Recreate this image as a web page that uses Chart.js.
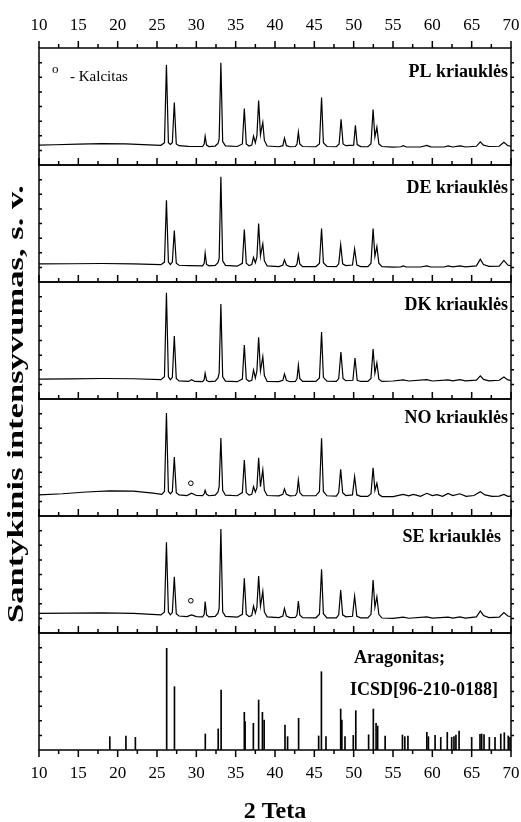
<!DOCTYPE html>
<html>
<head>
<meta charset="utf-8">
<script src="https://cdn.jsdelivr.net/npm/chart.js@4.4.1/dist/chart.umd.min.js"></script>
<style>
  body { margin: 0; background: #fff; }
</style>
</head>
<body>
<canvas id="myChart" width="521" height="822"></canvas>
<script>
// x range and ticks (2 Teta, degrees)
const xMin = 10;
const xMax = 70;
const xMajorStep = 5;
const xMinorStep = 2.5;

// panel names, top to bottom
const panelNames = ['PL kriauklės', 'DE kriauklės', 'DK kriauklės', 'NO kriauklės', 'SE kriauklės'];
const refNames = ['Aragonitas;', 'ICSD[96-210-0188]'];
const yTitleText = 'Santykinis intensyvumas, s. v.';

const plCurve = [
  [10,17],[12,17.3],[15,17.8],[18,18.2],[21,18],[24,17.2],[25.5,16.8],
  [25.95,19],[26.2,85.6],[26.45,19],[26.7,17.5],[26.95,19],[27.2,53.4],[27.45,18],[27.8,16.5],
  [29,16],[30.8,15.8],[31.0,18],[31.12,24.6],[31.3,17],[31.6,15.8],
  [32.4,16.2],[32.75,18.5],[32.9,22],[33.12,87.3],[33.35,20],[33.7,16.3],
  [35.2,15.8],[35.85,18],[36.1,48.3],[36.35,18],[36.7,16.2],
  [37.05,17],[37.27,24.6],[37.5,19],[37.7,25],[37.92,55.1],[38.15,26],[38.25,30],[38.45,36.4],[38.65,21],[39,16.2],
  [40.5,15.6],[41.0,16.5],[41.2,22.9],[41.45,16.5],[41.9,15.6],
  [42.6,15.8],[42.8,18],[42.97,28],[43.15,18],[43.5,15.8],
  [45.2,15.6],[45.65,18],[45.92,57.6],[46.15,19],[46.6,15.8],
  [47.8,15.6],[48.15,18],[48.4,39],[48.65,18],[49.0,16.5],
  [50.0,17],[50.22,33.9],[50.45,17.5],[50.9,15.7],
  [51.8,15.6],[52.2,18],[52.47,47.5],[52.7,24],[52.95,32.2],[53.2,18],[53.6,15.8],
  [55,15.3],[56,15.6],[56.3,16.5],[56.7,15.4],[58.5,15.4],[59.3,16.8],[59.8,15.5],[61.5,15.4],[62.0,16.3],[62.6,15.4],
  [63.3,16.2],[63.6,16.4],[64.2,15.4],[65.6,16],[66.1,19.7],[66.5,17],[67.2,15.8],[68.5,16],[69.1,19.5],[69.6,16.5],[70,16]
];
const deCurve = [
  [10,15.5],[14,15.6],[18,15.8],[22,15.5],[25.5,14.8],
  [25.95,17],[26.2,69.8],[26.45,17],[26.7,15],[26.95,17],[27.2,44],[27.45,16],[27.8,14.3],
  [29,14],[30.8,13.8],[31.0,16],[31.12,24.7],[31.3,15],[31.6,13.8],
  [32.4,14.2],[32.75,16.5],[32.9,20],[33.12,89.9],[33.35,18],[33.7,14.2],
  [35.2,13.5],[35.85,16],[36.1,44.8],[36.35,16],[36.7,14],
  [37.05,15],[37.27,21],[37.5,16.5],[37.7,21],[37.92,50],[38.15,22],[38.25,26],[38.45,32.5],[38.65,18],[39,13.8],
  [40.5,13.2],[41.0,14.5],[41.2,19],[41.45,14.5],[41.9,13.2],
  [42.6,13.3],[42.8,15.5],[42.97,23.3],[43.15,15.5],[43.5,13.2],
  [45.2,13.2],[45.65,16],[45.92,45.7],[46.15,16.5],[46.6,13.3],
  [47.8,13.2],[48.1,15.5],[48.35,31.9],[48.6,15.5],[49.0,14],
  [49.85,14.5],[50.12,28.2],[50.4,14.5],[50.9,13.2],
  [51.8,13.2],[52.2,16],[52.47,45.7],[52.7,22],[52.95,30.5],[53.2,16],[53.6,13.2],
  [55,12.7],[56,13],[56.3,13.8],[56.7,12.8],[58.5,12.8],[59.3,13.8],[59.8,12.8],[61.5,12.8],[62.0,13.8],[62.6,12.9],
  [63.5,13.8],[64.2,12.9],[65.6,13.8],[66.1,19.5],[66.5,15],[67.2,13.3],[68.5,13.5],[69.1,18.4],[69.6,14.5],[70,13.8]
];
const dkCurve = [
  [10,17],[14,17.2],[18,17.5],[22,17.3],[25.5,16.5],
  [25.95,19],[26.2,90.9],[26.45,19],[26.7,16.5],[26.95,18.5],[27.2,53.8],[27.45,17.5],[27.8,15.5],
  [29,15],[29.4,16.5],[29.8,15],[30.8,14.8],[31.0,16.5],[31.12,22],[31.3,16],[31.6,14.8],
  [32.4,15.2],[32.75,18],[32.9,22],[33.12,81.2],[33.35,19],[33.7,15.3],
  [35.2,14.8],[35.85,17],[36.1,46.2],[36.35,17],[36.7,15.2],
  [37.05,16],[37.27,24.8],[37.5,18],[37.7,24],[37.92,52.7],[38.15,24],[38.25,28],[38.45,36.2],[38.65,20],[39,15],
  [40.5,14.8],[41.0,16],[41.2,21.4],[41.45,16],[41.9,14.8],
  [42.6,15],[42.8,17.5],[42.97,29],[43.15,17.5],[43.5,15],
  [45.2,15],[45.65,18],[45.92,57.3],[46.15,18.5],[46.6,15.2],
  [47.8,15],[48.1,17.5],[48.38,40.2],[48.65,17.5],[49.0,15.6],
  [49.9,16],[50.17,35],[50.45,16],[50.9,15],
  [51.8,15],[52.2,17.5],[52.47,42.7],[52.7,22],[52.95,30.8],[53.2,17],[53.6,15],
  [55,15.4],[56.3,16.3],[57,15.4],[59.3,16.5],[60,15.4],[62,16.3],[62.6,15.5],[63.5,16.5],[64.2,15.5],
  [65.6,16.2],[66.1,19.7],[66.5,16.8],[67.2,15.5],[68.5,16],[69.1,18.8],[69.6,16.3],[70,16]
];
const noCurve = [
  [10,18],[13,19],[16,20.5],[19,21.4],[22,21.2],[24.5,19.5],[25.6,18.5],
  [25.95,21],[26.2,88],[26.45,21],[26.7,19],[26.95,21],[27.2,50.4],[27.45,20],[27.8,18],
  [28.8,17.5],[29.4,19.5],[30,17.5],[30.8,17.4],[31.0,19],[31.12,22],[31.3,18.5],[31.6,17.3],
  [32.4,17.8],[32.75,20.5],[32.9,25],[33.12,66.7],[33.35,22],[33.7,17.8],
  [35.2,17.3],[35.85,20],[36.1,47.9],[36.35,20],[36.7,17.8],
  [37.05,18.5],[37.27,25],[37.5,20.5],[37.7,24],[37.92,49.8],[38.15,25],[38.25,30],[38.45,39.3],[38.65,22],[39,17.5],
  [40.5,17.2],[41.0,18.5],[41.2,23.1],[41.45,18.5],[41.9,17.2],
  [42.6,17.5],[42.8,20],[42.97,30.8],[43.15,20],[43.5,17.3],
  [45.2,17.3],[45.65,21],[45.92,66.4],[46.15,21],[46.6,17.3],
  [47.8,17],[48.1,20],[48.35,39.9],[48.6,20],[49.0,17.5],
  [49.85,18],[50.12,33.6],[50.4,18],[50.9,16.8],
  [51.8,16.8],[52.2,19],[52.47,41.3],[52.7,22],[52.95,28],[53.2,18.5],[53.6,16.6],
  [55,16.5],[56.3,18.5],[57,17.2],[57.6,18.5],[58.5,16.8],[59.3,19.4],[60,17.5],[60.6,18.2],[61.3,16.8],[62,19.3],
  [62.6,17.5],[63.5,19],[64.3,16.8],[65.3,17.5],[66.1,20.8],[66.7,18],[67.6,16.8],[68.5,17],[69.1,18.5],[69.6,16.8],[70,17]
];
const seCurve = [
  [10,16.8],[14,17],[18,17.2],[22,16.8],[25.5,15.5],
  [25.95,18],[26.2,77.5],[26.45,18],[26.7,15.5],[26.95,17.5],[27.2,48.1],[27.45,16.5],[27.8,14.5],
  [28.8,14],[29.4,15.5],[30,14],[30.8,13.8],[31.0,16],[31.12,26.8],[31.3,15.5],[31.6,13.8],
  [32.4,14.2],[32.75,17],[32.9,21],[33.12,88.9],[33.35,18],[33.7,14.2],
  [35.2,13.5],[35.85,16],[36.1,46.7],[36.35,16],[36.7,14],
  [37.05,15],[37.27,23],[37.5,17],[37.7,22],[37.92,48.7],[38.15,23],[38.25,27],[38.45,35.5],[38.65,18],[39,13.8],
  [40.5,13.2],[41.0,14.5],[41.2,21.1],[41.45,14.5],[41.9,13.2],
  [42.6,13.3],[42.8,15.5],[42.97,27.4],[43.15,15.5],[43.5,13.2],
  [45.2,13],[45.65,16],[45.92,54.4],[46.15,16.5],[46.6,13],
  [47.8,13],[48.1,15.5],[48.35,36.8],[48.6,15.5],[49.0,13.8],
  [49.85,14.3],[50.12,31.6],[50.4,14.3],[50.9,13],
  [51.8,13],[52.2,16],[52.47,45.3],[52.7,22],[52.95,31],[53.2,16],[53.6,12.8],
  [55,12.5],[56.3,13.5],[57,12.6],[59.3,13.8],[60,12.7],[62,13.6],[62.6,12.8],[63.5,13.8],[64.2,12.8],
  [65.6,13.8],[66.1,18.8],[66.5,15],[67.2,13.2],[68.5,13.5],[69.1,17.4],[69.6,14.5],[70,14]
];

// aragonite reference lines (ICSD 96-210-0188)
const aragPos = [19.0, 21.05, 22.25, 26.23, 27.22, 31.14, 32.78, 33.15, 36.1, 36.2, 37.25, 37.92, 38.4, 38.62,
  41.27, 41.6, 43.0, 45.55, 45.9, 46.48, 48.35, 48.5, 48.9, 49.95, 50.27, 51.9, 52.5, 52.85, 53.05, 54.0,
  56.2, 56.5, 56.9, 59.3, 59.5, 60.35, 61.07, 61.9, 62.46, 62.75, 63.0, 63.4, 65.0, 66.06, 66.27, 66.57,
  67.25, 67.97, 68.7, 69.15, 69.65, 69.87];
const aragInt = [11.4, 12, 10.8, 86.9, 54.1, 13.7, 18, 51.3, 32.2, 24.2, 22.8, 42.7, 32.2, 25.6,
  21.4, 11.4, 27.1, 12, 66.9, 11.4, 35, 25.6, 11.4, 12.5, 33.6, 13, 35, 22.8, 20.5, 12,
  12.8, 11.4, 12, 15.1, 11.4, 12.5, 10.8, 15.1, 10.8, 11.4, 12.8, 16.2, 10.8, 13.4, 13.7, 13.1,
  10.8, 10.8, 13.7, 14.8, 12, 10.8];

// calcite markers ("o") in NO and SE
const calcitePos = 29.3;
const calciteNO = 28;
const calciteSE = 27.6;

const yTickVals = [12.5, 25, 37.5, 50, 62.5, 75, 87.5];

const panelIds = ['yPL', 'yDE', 'yDK', 'yNO', 'ySE', 'yAR'];
const curves = [plCurve, deCurve, dkCurve, noCurve, seCurve];
const serif = '"Liberation Serif", "DejaVu Serif", serif';

const datasets = curves.map((c, i) => ({
  type: 'line',
  data: c,
  yAxisID: panelIds[i],
  borderColor: '#000',
  borderWidth: 1.2,
  pointRadius: 0,
  tension: 0,
  fill: false
}));
datasets.push({
  type: 'bar',
  data: aragPos.map((x, i) => ({ x: x, y: aragInt[i] })),
  yAxisID: 'yAR',
  backgroundColor: '#000',
  barThickness: 1
});
datasets.push({
  type: 'scatter',
  data: [{ x: calcitePos, y: calciteNO }],
  yAxisID: 'yNO',
  pointRadius: 2.3,
  borderWidth: 1,
  borderColor: '#000',
  backgroundColor: '#fff'
});
datasets.push({
  type: 'scatter',
  data: [{ x: calcitePos, y: calciteSE }],
  yAxisID: 'ySE',
  pointRadius: 2.3,
  borderWidth: 1,
  borderColor: '#000',
  backgroundColor: '#fff'
});

const hidden = {
  ticks: { display: false },
  grid: { display: false, drawTicks: false },
  border: { display: false }
};

const noSidePadding = s => { s.paddingLeft = 0; s.paddingRight = 0; };

const scales = {
  x: {
    type: 'linear', position: 'bottom', min: xMin, max: xMax, offset: false,
    ticks: { stepSize: xMajorStep, color: '#000', padding: 13, maxRotation: 0, autoSkip: false,
      font: { family: serif, size: 17 } },
    grid: { display: false, drawTicks: false },
    border: { display: false },
    title: { display: true, text: '2 Teta', color: '#000', padding: { top: 0, bottom: 0 },
      font: { family: serif, size: 24, weight: 'bold', lineHeight: 0.85 } },
    afterFit: s => { s.height = 72; noSidePadding(s); }
  },
  x2: {
    type: 'linear', position: 'top', min: xMin, max: xMax, offset: false,
    ticks: { stepSize: xMajorStep, color: '#000', padding: 12, maxRotation: 0, autoSkip: false,
      font: { family: serif, size: 17 } },
    grid: { display: false, drawTicks: false },
    border: { display: false },
    afterFit: s => { s.height = 48; noSidePadding(s); }
  },
  // empty strip on the left that holds the rotated title
  yTitle: {
    type: 'linear', position: 'left', weight: 1, min: 0, max: 1,
    ...hidden,
    afterFit: s => { s.width = 39; }
  }
};
// stacked left axes are laid out last-defined first, so add them bottom-up
panelIds.slice().reverse().forEach(id => {
  scales[id] = {
    type: 'linear', position: 'left', stack: 'xrd', stackWeight: 1, weight: 0,
    min: 0, max: 100,
    ...hidden,
    afterFit: s => { s.width = 0; }
  };
});

// frames, tick marks and panel texts
const framePlugin = {
  id: 'frames',
  afterDraw(chart) {
    const { ctx, chartArea, scales } = chart;
    const xs = scales.x;
    const left = chartArea.left, right = chartArea.right;
    ctx.save();
    ctx.strokeStyle = '#000';
    ctx.lineWidth = 1.5;
    panelIds.forEach((id, i) => {
      const s = scales[id];
      ctx.strokeRect(left, s.top, right - left, s.bottom - s.top);
      const last = i === panelIds.length - 1;
      ctx.beginPath();
      for (let v = xMin; v <= xMax + 1e-6; v += xMinorStep) {
        const px = xs.getPixelForValue(v);
        const len = (v % xMajorStep === 0) ? 7 : 4;
        if (last) { ctx.moveTo(px, s.bottom); ctx.lineTo(px, s.bottom + len); }
        else { ctx.moveTo(px, s.bottom); ctx.lineTo(px, s.bottom - len); }
        if (i === 0) { ctx.moveTo(px, s.top); ctx.lineTo(px, s.top - len); }
      }
      yTickVals.forEach(v => {
        const py = s.getPixelForValue(v);
        ctx.moveTo(left, py); ctx.lineTo(left + 3, py);
        ctx.moveTo(right, py); ctx.lineTo(right + 3, py);
      });
      ctx.stroke();
    });

    ctx.fillStyle = '#000';
    ctx.textBaseline = 'middle';
    ctx.font = 'bold 18px ' + serif;
    ctx.textAlign = 'right';
    const labelDy = [24, 23, 23, 19, 21];
    const labelDx = [3, 3, 3, 3, 10];
    panelNames.forEach((name, i) => {
      const s = scales[panelIds[i]];
      ctx.fillText(name, right - labelDx[i], s.top + labelDy[i]);
    });
    const ar = scales.yAR;
    ctx.textAlign = 'left';
    ctx.fillText(refNames[0], 354, ar.top + 25);
    ctx.fillText(refNames[1], 350, ar.top + 57);

    const pl = scales.yPL;
    ctx.font = '13px ' + serif;
    ctx.fillText('o', 52, pl.top + 22);
    ctx.font = '15px ' + serif;
    ctx.fillText('- Kalcitas', 70, pl.top + 29);

    // rotated y title, stretched along its length like the original figure
    ctx.translate(17, 404);
    ctx.rotate(-Math.PI / 2);
    ctx.font = 'bold 23px ' + serif;
    ctx.textAlign = 'center';
    const w = ctx.measureText(yTitleText).width;
    ctx.scale(438 / w, 1);
    ctx.fillText(yTitleText, 0, 0);
    ctx.restore();
  }
};

const ctx = document.getElementById('myChart').getContext('2d');
const myChart = new Chart(ctx, {
  type: 'line',
  data: { datasets: datasets },
  options: {
    responsive: false,
    animation: false,
    devicePixelRatio: 1,
    layout: { padding: { left: 0, right: 10, top: 0, bottom: 0 } },
    plugins: { legend: { display: false }, tooltip: { enabled: false } },
    scales: scales
  },
  plugins: [framePlugin]
});
</script>
</body>
</html>
